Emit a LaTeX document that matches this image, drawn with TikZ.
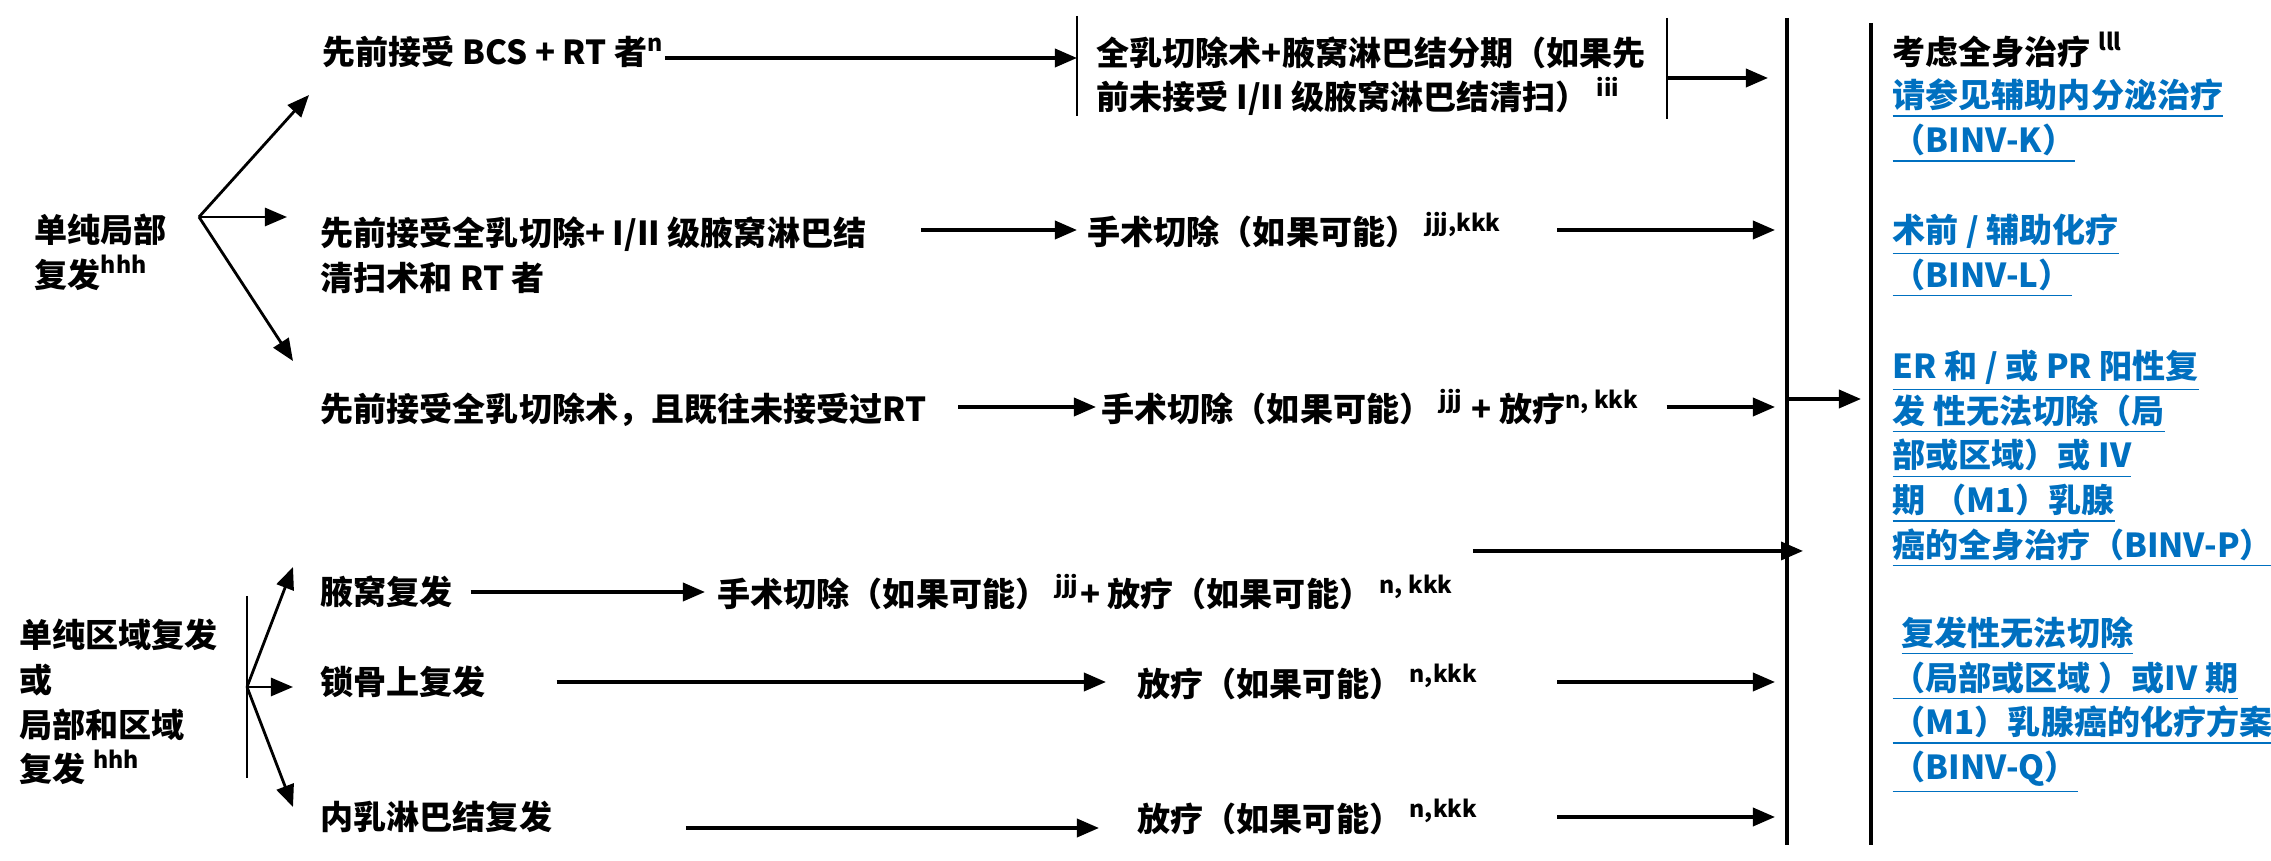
\documentclass[tikz,border=0pt]{standalone}
\usepackage{fontspec}
\setmainfont{Noto Sans CJK SC}
\usetikzlibrary{arrows.meta, positioning}
\usepackage{xcolor}
\definecolor{linkblue}{RGB}{0,112,192}

\begin{document}
\begin{tikzpicture}[x=0.01cm, y=-0.01cm,
  every node/.style={inner sep=0pt, anchor=west, align=left, font=\fontsize{9.4pt}{12.7pt}\selectfont\bfseries},
  arr/.style={-{Triangle[length=0.22cm, width=0.18cm]}, line width=1pt},
  fork/.style={arr, line width=0.8pt},
  link/.style={text=linkblue}]

  \useasboundingbox (0,0) rectangle (2271,861);

  % Columns the arrows run to
  \coordinate (col) at (1557,0);
  \coordinate (gap) at (1775,0);

  % Left: purely local recurrence
  \node (local) at (34,252) {单纯局部\\复发\textsuperscript{hhh}};
  \coordinate (fork1) at (199,217);
  \coordinate (up1) at (309,95);
  \coordinate (mid1) at (287,217);
  \coordinate (down1) at (293,361);
  \draw[fork] (fork1) -- (up1);
  \draw[fork] (fork1) -- (mid1);
  \draw[fork] (fork1) -- (down1);

  % Prior BCS + RT
  \node (bcs) at (322,52) {先前接受 BCS + RT 者\textsuperscript{n}};
  \node (stage) at (1096,76) {全乳切除术+腋窝淋巴结分期（如果先\\前未接受 I/II 级腋窝淋巴结清扫） \textsuperscript{iii}};
  \coordinate (stageL) at (1077,16);
  \coordinate (stageR) at (1667,78);
  \draw[line width=0.7pt] (stageL) -- (1077,116);
  \draw[line width=0.7pt] (1667,18) -- (1667,119);
  \draw[arr] ([yshift=-0.06cm]bcs.east) -- ([yshift=-0.06cm]bcs.east -| stageL);
  \draw[arr] (stageR) -- (stageR -| 1768,0);

  % Prior mastectomy + axillary dissection + RT
  \node (mast) at (320,255) {先前接受全乳切除+ I/II 级腋窝淋巴结\\清扫术和 RT 者};
  \node (surg1) at (1087,230) {手术切除（如果可能） \textsuperscript{jjj,kkk}};
  \draw[arr, shorten <=0.54cm, shorten >=0.1cm] (mast.east |- surg1.west) -- (surg1.west);
  \draw[arr] (surg1.east -| col) -- (surg1.east -| gap);

  % Prior mastectomy, no RT
  \node (nort) at (320,410) {先前接受全乳切除术，且既往未接受过RT};
  \node (surg2) at (1101,407) {手术切除（如果可能） \textsuperscript{jjj} + 放疗\textsuperscript{n, kkk}};
  \draw[arr, shorten <=0.31cm, shorten >=0.05cm] (nort.east |- surg2.west) -- (surg2.west);
  \draw[arr, shorten <=0.26cm] (surg2.east) -- (surg2.east -| gap);

  % Left: regional recurrence
  \node (regional) at (19,702) {单纯区域复发\\或\\局部和区域\\复发 \textsuperscript{hhh}};
  \draw[line width=0.7pt] (247,596) -- (247,778);
  \coordinate (fork2) at (247,687);
  \coordinate (up2) at (293,567);
  \coordinate (mid2) at (293,687);
  \coordinate (down2) at (293,807);
  \draw[fork] (fork2) -- (up2);
  \draw[fork] (fork2) -- (mid2);
  \draw[fork] (fork2) -- (down2);

  % Axillary recurrence
  \node (axil) at (320,592) {腋窝复发};
  \node (surg3) at (717,592) {手术切除（如果可能） \textsuperscript{jjj}+ 放疗（如果可能） \textsuperscript{n, kkk}};
  \draw[arr, shorten <=0.17cm, shorten >=0.12cm] (axil.east) -- (axil.east -| surg3.west);
  \draw[arr] ([xshift=0.18cm, yshift=0.41cm]surg3.east) -- ([xshift=0.18cm, yshift=0.41cm]surg3.east -| 1785,0);

  % Supraclavicular recurrence
  \node (supra) at (320,682) {锁骨上复发};
  \node (rt1) at (1137,682) {放疗（如果可能） \textsuperscript{n,kkk}};
  \draw[arr, shorten <=0.7cm, shorten >=0.31cm] (supra.east) -- (supra.east -| rt1.west);
  \draw[arr] (rt1.east -| col) -- (rt1.east -| gap);

  % Internal mammary recurrence
  \node (imn) at (320,817) {内乳淋巴结复发};
  \node (rt2) at (1137,817) {放疗（如果可能） \textsuperscript{n,kkk}};
  \draw[arr, shorten <=1.33cm, shorten >=0.38cm] ([yshift=-0.11cm]imn.east) -- ([yshift=-0.11cm]imn.east -| rt2.west);
  \draw[arr] (rt2.east -| col) -- (rt2.east -| gap);

  % Collecting lines
  \coordinate (bigtop) at (1787,18);
  \coordinate (bigbot) at (1787,845);
  \coordinate (outtop) at (1871,23);
  \coordinate (outbot) at (1871,845);
  \draw[line width=1pt] (bigtop) -- (bigbot);
  \draw[line width=1pt] (outtop) -- (outbot);
  \coordinate (join) at (1787,399);
  \draw[arr, shorten >=0.1cm] (join) -- (join -| outtop);

  % Right: systemic therapy
  \node (systemic) at (1892,50) {考虑全身治疗 \textsuperscript{lll}};
  \node[link] (binvk) at (1892,121) {\underline{请参见辅助内分泌治疗}\\\underline{（BINV-K）}};
  \node[link] (binvl) at (1892,256) {\underline{术前 / 辅助化疗}\\\underline{（BINV-L）}};
  \node[link] (binvp) at (1892,459) {\underline{ER 和 / 或 PR 阳性复}\\\underline{发 性无法切除（局}\\\underline{部或区域）或 IV}\\\underline{期 （M1）乳腺}\\\underline{癌的全身治疗（BINV-P）}};
  \node[link] (binvq) at (1892,705) {\hspace*{0.09cm}\underline{复发性无法切除}\\\underline{（局部或区域 ）或IV 期}\\\underline{（M1）乳腺癌的化疗方案}\\\underline{（BINV-Q）}};

\end{tikzpicture}
\end{document}
